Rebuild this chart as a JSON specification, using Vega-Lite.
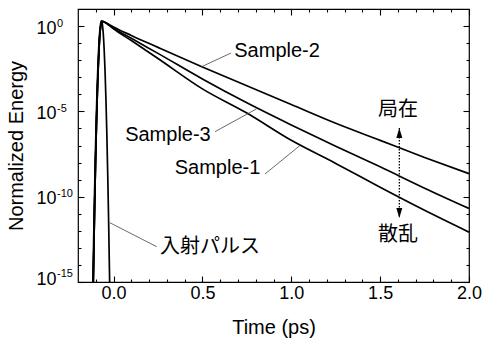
{
  "$schema": "https://vega.github.io/schema/vega-lite/v6.json",
  "width": 391,
  "height": 273,
  "autosize": {"type": "none"},
  "padding": {"left": 78, "top": 9, "right": 15, "bottom": 60},
  "config": {
    "view": {"stroke": "black", "strokeWidth": 1.2},
    "axis": {"grid": false, "domain": false, "ticks": true, "tickOpacity": 1, "tickColor": "black", "tickWidth": 1.1, "labelColor": "black", "titleColor": "black", "labelFont": "Liberation Sans", "titleFont": "Liberation Sans", "titleFontWeight": "normal", "labelFlush": false, "labelOverlap": false, "labelBound": false}
  },
  "resolve": {"axis": {"x": "independent", "y": "independent"}},
  "datasets": {
    "curves": [
      {"s": "pulse", "t": -0.120, "E": 2.19e-18}, {"s": "pulse", "t": -0.116, "E": 1e-15}, {"s": "pulse", "t": -0.112, "E": 2.75e-13}, {"s": "pulse", "t": -0.108, "E": 4.68e-11}, {"s": "pulse", "t": -0.103, "E": 1.48e-8}, {"s": "pulse", "t": -0.098, "E": 2.09e-6}, {"s": "pulse", "t": -0.093, "E": 1.41e-4}, {"s": "pulse", "t": -0.088, "E": 4.37e-3}, {"s": "pulse", "t": -0.083, "E": 0.0646}, {"s": "pulse", "t": -0.078, "E": 0.437}, {"s": "pulse", "t": -0.073, "E": 1.36}, {"s": "pulse", "t": -0.068, "E": 2.0}, {"s": "pulse", "t": -0.063, "E": 1.32}, {"s": "pulse", "t": -0.058, "E": 0.38}, {"s": "pulse", "t": -0.053, "E": 0.0468}, {"s": "pulse", "t": -0.048, "E": 2.57e-3}, {"s": "pulse", "t": -0.043, "E": 6.03e-5}, {"s": "pulse", "t": -0.038, "E": 6.17e-7}, {"s": "pulse", "t": -0.033, "E": 2.75e-9}, {"s": "pulse", "t": -0.028, "E": 5.37e-12}, {"s": "pulse", "t": -0.023, "E": 4.57e-15}, {"s": "pulse", "t": -0.018, "E": 1.66e-18},

      {"s": "Sample-2", "t": -0.118, "E": 2.19e-18}, {"s": "Sample-2", "t": -0.114, "E": 1e-15}, {"s": "Sample-2", "t": -0.110, "E": 2.75e-13}, {"s": "Sample-2", "t": -0.106, "E": 4.68e-11}, {"s": "Sample-2", "t": -0.101, "E": 1.48e-8}, {"s": "Sample-2", "t": -0.096, "E": 2.09e-6}, {"s": "Sample-2", "t": -0.091, "E": 1.41e-4}, {"s": "Sample-2", "t": -0.086, "E": 4.37e-3}, {"s": "Sample-2", "t": -0.081, "E": 0.0646}, {"s": "Sample-2", "t": -0.076, "E": 0.437}, {"s": "Sample-2", "t": -0.070, "E": 1.3}, {"s": "Sample-2", "t": -0.062, "E": 1.9}, {"s": "Sample-2", "t": -0.052, "E": 1.75},
      {"s": "Sample-2", "t": -0.03, "E": 1.318}, {"s": "Sample-2", "t": 0.0, "E": 0.891}, {"s": "Sample-2", "t": 0.1, "E": 0.282}, {"s": "Sample-2", "t": 0.25, "E": 0.0562}, {"s": "Sample-2", "t": 0.5, "E": 3.98e-3}, {"s": "Sample-2", "t": 0.75, "E": 3.16e-4}, {"s": "Sample-2", "t": 1.0, "E": 2.51e-5}, {"s": "Sample-2", "t": 1.25, "E": 2.0e-6}, {"s": "Sample-2", "t": 1.5, "E": 2.0e-7}, {"s": "Sample-2", "t": 1.75, "E": 2.0e-8}, {"s": "Sample-2", "t": 2.0, "E": 2.24e-9},

      {"s": "Sample-3", "t": -0.118, "E": 2.19e-18}, {"s": "Sample-3", "t": -0.114, "E": 1e-15}, {"s": "Sample-3", "t": -0.110, "E": 2.75e-13}, {"s": "Sample-3", "t": -0.106, "E": 4.68e-11}, {"s": "Sample-3", "t": -0.101, "E": 1.48e-8}, {"s": "Sample-3", "t": -0.096, "E": 2.09e-6}, {"s": "Sample-3", "t": -0.091, "E": 1.41e-4}, {"s": "Sample-3", "t": -0.086, "E": 4.37e-3}, {"s": "Sample-3", "t": -0.081, "E": 0.0646}, {"s": "Sample-3", "t": -0.076, "E": 0.437}, {"s": "Sample-3", "t": -0.070, "E": 1.3}, {"s": "Sample-3", "t": -0.062, "E": 1.9}, {"s": "Sample-3", "t": -0.052, "E": 1.75},
      {"s": "Sample-3", "t": -0.03, "E": 1.259}, {"s": "Sample-3", "t": 0.0, "E": 0.759}, {"s": "Sample-3", "t": 0.1, "E": 0.191}, {"s": "Sample-3", "t": 0.25, "E": 0.0251}, {"s": "Sample-3", "t": 0.5, "E": 7.94e-4}, {"s": "Sample-3", "t": 0.75, "E": 3.16e-5}, {"s": "Sample-3", "t": 1.0, "E": 1.585e-6}, {"s": "Sample-3", "t": 1.25, "E": 8.91e-8}, {"s": "Sample-3", "t": 1.5, "E": 5.62e-9}, {"s": "Sample-3", "t": 1.75, "E": 3.16e-10}, {"s": "Sample-3", "t": 2.0, "E": 2.04e-11},

      {"s": "Sample-1", "t": -0.118, "E": 2.19e-18}, {"s": "Sample-1", "t": -0.114, "E": 1e-15}, {"s": "Sample-1", "t": -0.110, "E": 2.75e-13}, {"s": "Sample-1", "t": -0.106, "E": 4.68e-11}, {"s": "Sample-1", "t": -0.101, "E": 1.48e-8}, {"s": "Sample-1", "t": -0.096, "E": 2.09e-6}, {"s": "Sample-1", "t": -0.091, "E": 1.41e-4}, {"s": "Sample-1", "t": -0.086, "E": 4.37e-3}, {"s": "Sample-1", "t": -0.081, "E": 0.0646}, {"s": "Sample-1", "t": -0.076, "E": 0.437}, {"s": "Sample-1", "t": -0.070, "E": 1.3}, {"s": "Sample-1", "t": -0.062, "E": 1.9}, {"s": "Sample-1", "t": -0.052, "E": 1.75},
      {"s": "Sample-1", "t": -0.03, "E": 1.202}, {"s": "Sample-1", "t": 0.0, "E": 0.692}, {"s": "Sample-1", "t": 0.1, "E": 0.141}, {"s": "Sample-1", "t": 0.25, "E": 0.0126}, {"s": "Sample-1", "t": 0.5, "E": 2.09e-4}, {"s": "Sample-1", "t": 0.75, "E": 7.94e-6}, {"s": "Sample-1", "t": 1.0, "E": 2.0e-7}, {"s": "Sample-1", "t": 1.25, "E": 8.91e-9}, {"s": "Sample-1", "t": 1.5, "E": 3.55e-10}, {"s": "Sample-1", "t": 1.75, "E": 1.585e-11}, {"s": "Sample-1", "t": 2.0, "E": 8.32e-13}
    ],
    "leaders": [
      {"k": "Sample-2", "t": 0.492, "E": 3.98e-3}, {"k": "Sample-2", "t": 0.661, "E": 0.0263},
      {"k": "Sample-3", "t": 0.571, "E": 6.46e-7}, {"k": "Sample-3", "t": 0.805, "E": 1.41e-5},
      {"k": "Sample-1", "t": 0.852, "E": 2.14e-9}, {"k": "Sample-1", "t": 1.049, "E": 1.0e-7},
      {"k": "pulse", "t": 0.243, "E": 1.17e-13}, {"k": "pulse", "t": -0.02, "E": 2.95e-12}
    ],
    "labelsEn": [
      {"text": "Sample-2", "t": 0.92, "E": 0.0347},
      {"text": "Sample-3", "t": 0.306, "E": 4.07e-7},
      {"text": "Sample-1", "t": 0.585, "E": 4.79e-9}
    ],
    "labelsJa": [
      {"text": "入射パルス", "t": 0.543, "E": 1.12e-13},
      {"text": "局在", "t": 1.6, "E": 1.2e-5},
      {"text": "散乱", "t": 1.6, "E": 5.62e-13}
    ],
    "arrow": [{"t": 1.608, "top": 1.05e-6, "bottom": 5.62e-12}],
    "heads": [
      {"t": 1.608, "E": 5.37e-7, "dir": "up"},
      {"t": 1.608, "E": 1.1e-11, "dir": "down"}
    ]
  },
  "layer": [
    {
      "data": {"name": "curves"},
      "mark": {"type": "line", "color": "black", "strokeWidth": 1.7, "clip": true, "interpolate": "monotone"},
      "encoding": {
        "x": {"field": "t", "type": "quantitative", "scale": {"domain": [-0.2, 2.0], "nice": false, "zero": false},
          "axis": {"orient": "bottom", "values": [0, 0.5, 1, 1.5, 2], "format": ".1f", "tickSize": -6, "labelPadding": 8, "labelFontSize": 18, "title": "Time (ps)", "titleFontSize": 20, "titlePadding": 15}},
        "y": {"field": "E", "type": "quantitative", "scale": {"type": "log", "domain": [1e-15, 10], "nice": false},
          "axis": {"orient": "left", "values": [1, 1e-5, 1e-10, 1e-15], "labelExpr": "'10'", "tickSize": -6, "labelPadding": 28, "labelOffset": 2, "labelFlush": true, "labelFlushOffset": 4.5, "labelFontSize": 18, "title": "Normalized Energy", "titleFontSize": 20, "titlePadding": 9}},
        "detail": {"field": "s", "type": "nominal"}
      }
    },
    {
      "data": {"name": "curves"},
      "mark": {"type": "point", "opacity": 0},
      "encoding": {
        "x": {"field": "t", "type": "quantitative", "scale": {"domain": [-0.2, 2.0], "nice": false, "zero": false},
          "axis": {"orient": "bottom", "values": [-0.1, 0.1, 0.2, 0.3, 0.4, 0.6, 0.7, 0.8, 0.9, 1.1, 1.2, 1.3, 1.4, 1.6, 1.7, 1.8, 1.9], "tickSize": -3, "labels": false, "title": null}},
        "y": {"field": "E", "type": "quantitative", "scale": {"type": "log", "domain": [1e-15, 10], "nice": false},
          "axis": {"orient": "left", "values": [1e-14, 1e-13, 1e-12, 1e-11, 1e-9, 1e-8, 1e-7, 1e-6, 1e-4, 1e-3, 1e-2, 1e-1], "tickSize": -3, "labels": false, "title": null}}
      }
    },
    {
      "data": {"name": "curves"},
      "mark": {"type": "point", "opacity": 0},
      "encoding": {
        "x": {"field": "t", "type": "quantitative", "scale": {"domain": [-0.2, 2.0], "nice": false, "zero": false},
          "axis": {"orient": "top", "values": [0, 0.5, 1, 1.5, 2], "tickSize": -6, "labels": false, "title": null}},
        "y": {"field": "E", "type": "quantitative", "scale": {"type": "log", "domain": [1e-15, 10], "nice": false},
          "axis": {"orient": "right", "values": [1, 1e-5, 1e-10, 1e-15], "tickSize": -6, "labels": false, "title": null}}
      }
    },
    {
      "data": {"name": "curves"},
      "mark": {"type": "point", "opacity": 0},
      "encoding": {
        "x": {"field": "t", "type": "quantitative", "scale": {"domain": [-0.2, 2.0], "nice": false, "zero": false},
          "axis": {"orient": "top", "values": [-0.1, 0.1, 0.2, 0.3, 0.4, 0.6, 0.7, 0.8, 0.9, 1.1, 1.2, 1.3, 1.4, 1.6, 1.7, 1.8, 1.9], "tickSize": -3, "labels": false, "title": null}},
        "y": {"field": "E", "type": "quantitative", "scale": {"type": "log", "domain": [1e-15, 10], "nice": false},
          "axis": {"orient": "right", "values": [1e-14, 1e-13, 1e-12, 1e-11, 1e-9, 1e-8, 1e-7, 1e-6, 1e-4, 1e-3, 1e-2, 1e-1], "tickSize": -3, "labels": false, "title": null}}
      }
    },
    {
      "data": {"name": "curves"},
      "mark": {"type": "point", "opacity": 0},
      "encoding": {
        "x": {"field": "t", "type": "quantitative", "axis": null},
        "y": {"field": "E", "type": "quantitative", "scale": {"type": "log", "domain": [1e-15, 10], "nice": false},
          "axis": {"orient": "left", "values": [1, 1e-5, 1e-10, 1e-15], "ticks": false, "labelPadding": 21.5, "labelFontSize": 11, "labelAlign": "left", "labelOffset": -3, "labelFlush": true, "labelFlushOffset": -1,
            "labelExpr": "datum.value >= 0.5 ? '0' : datum.value >= 5e-6 ? '-5' : datum.value >= 5e-11 ? '-10' : '-15'", "title": null}}
      }
    },
    {
      "data": {"name": "leaders"},
      "mark": {"type": "line", "color": "#444444", "strokeWidth": 0.8},
      "encoding": {
        "x": {"field": "t", "type": "quantitative", "axis": null},
        "y": {"field": "E", "type": "quantitative", "axis": null},
        "detail": {"field": "k", "type": "nominal"}
      }
    },
    {
      "data": {"name": "arrow"},
      "mark": {"type": "rule", "color": "black", "strokeWidth": 1.3, "strokeDash": [1.5, 1.5]},
      "encoding": {
        "x": {"field": "t", "type": "quantitative", "axis": null},
        "y": {"field": "top", "type": "quantitative", "axis": null},
        "y2": {"field": "bottom"}
      }
    },
    {
      "data": {"name": "heads"},
      "mark": {"type": "point", "filled": true, "color": "black", "opacity": 1, "size": 100},
      "encoding": {
        "x": {"field": "t", "type": "quantitative", "axis": null},
        "y": {"field": "E", "type": "quantitative", "axis": null},
        "shape": {"field": "dir", "type": "nominal", "legend": null, "scale": {"domain": ["up", "down"], "range": ["M0,-1L0.6,1L-0.6,1Z", "M0,1L0.6,-1L-0.6,-1Z"]}}
      }
    },
    {
      "data": {"name": "labelsEn"},
      "mark": {"type": "text", "font": "Liberation Sans", "fontSize": 20, "color": "black", "align": "center", "baseline": "middle"},
      "encoding": {
        "x": {"field": "t", "type": "quantitative", "axis": null},
        "y": {"field": "E", "type": "quantitative", "axis": null},
        "text": {"field": "text"}
      }
    },
    {
      "data": {"name": "labelsJa"},
      "mark": {"type": "text", "font": "Noto Sans CJK JP", "fontSize": 20, "color": "black", "align": "center", "baseline": "middle"},
      "encoding": {
        "x": {"field": "t", "type": "quantitative", "axis": null},
        "y": {"field": "E", "type": "quantitative", "axis": null},
        "text": {"field": "text"}
      }
    }
  ]
}
